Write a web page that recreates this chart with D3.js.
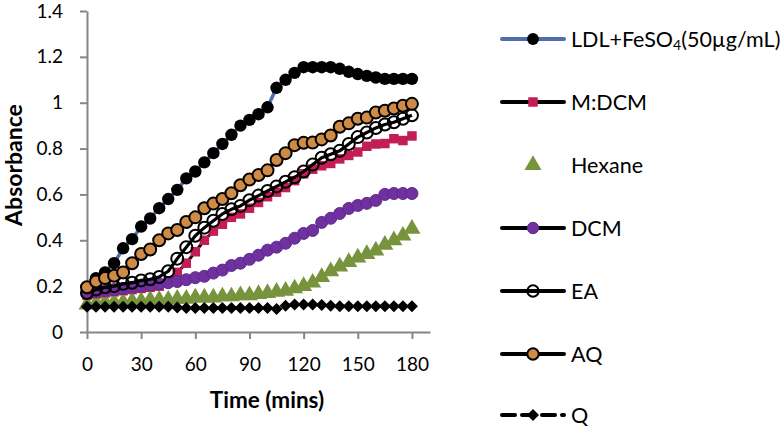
<!DOCTYPE html>
<html><head><meta charset="utf-8">
<script src="https://cdn.jsdelivr.net/npm/d3@7"></script>
<style>body{margin:0;background:#fff}svg{display:block}</style>
</head><body>
<svg id="chart" width="780" height="428"></svg>
<script>
const times = [0,5,10,15,20,25,30,35,40,45,50,55,60,65,70,75,80,85,90,95,100,105,110,115,120,125,130,135,140,145,150,155,160,165,170,175,180];
const ldl = [0.18,0.235,0.26,0.30,0.365,0.405,0.46,0.495,0.54,0.58,0.62,0.67,0.70,0.74,0.78,0.82,0.86,0.90,0.925,0.95,0.98,1.065,1.10,1.13,1.155,1.155,1.155,1.155,1.148,1.135,1.125,1.117,1.11,1.104,1.104,1.104,1.104];
const mdcm = [0.16,0.165,0.17,0.175,0.18,0.185,0.19,0.195,0.20,0.22,0.26,0.30,0.35,0.40,0.44,0.47,0.50,0.515,0.54,0.565,0.59,0.61,0.63,0.66,0.69,0.71,0.725,0.735,0.755,0.77,0.785,0.81,0.82,0.822,0.843,0.835,0.855];
const hexane = [0.12,0.125,0.13,0.13,0.13,0.135,0.135,0.14,0.14,0.14,0.145,0.145,0.15,0.15,0.15,0.155,0.155,0.16,0.16,0.165,0.17,0.175,0.18,0.19,0.20,0.215,0.24,0.265,0.285,0.305,0.325,0.34,0.355,0.38,0.40,0.42,0.45];
const dcm = [0.17,0.175,0.18,0.185,0.19,0.195,0.20,0.205,0.21,0.215,0.22,0.228,0.237,0.243,0.257,0.27,0.29,0.30,0.317,0.335,0.357,0.37,0.387,0.409,0.43,0.443,0.478,0.496,0.517,0.539,0.552,0.561,0.574,0.60,0.604,0.604,0.604];
const ea = [0.17,0.185,0.195,0.20,0.21,0.215,0.225,0.23,0.24,0.265,0.32,0.37,0.42,0.455,0.485,0.515,0.535,0.55,0.575,0.595,0.615,0.635,0.655,0.675,0.70,0.73,0.76,0.775,0.79,0.82,0.85,0.87,0.89,0.905,0.915,0.93,0.945];
const aq = [0.195,0.22,0.235,0.245,0.26,0.30,0.34,0.36,0.40,0.43,0.445,0.48,0.50,0.54,0.56,0.58,0.605,0.64,0.665,0.685,0.705,0.75,0.78,0.815,0.825,0.826,0.84,0.857,0.895,0.91,0.93,0.935,0.957,0.965,0.975,0.987,0.995];
const q = [0.11,0.11,0.11,0.11,0.11,0.11,0.11,0.11,0.11,0.11,0.107,0.105,0.105,0.105,0.105,0.105,0.105,0.105,0.105,0.105,0.105,0.1,0.115,0.12,0.12,0.12,0.118,0.115,0.112,0.112,0.112,0.112,0.112,0.112,0.112,0.112,0.112];
const seriesNames = ["LDL+FeSO4(50µg/mL)","M:DCM","Hexane","DCM","EA","AQ","Q"];
const xTicks = [0,30,60,90,120,150,180];
const yTicks = [0,0.2,0.4,0.6,0.8,1,1.2,1.4];
const xTitle = "Time (mins)";
const yTitle = "Absorbance";

const FONT = "Lato, 'Open Sans', sans-serif";
const svg = d3.select("#chart");
const x = d3.scaleLinear().domain([0,190]).range([87,430]);
const y = d3.scaleLinear().domain([0,1.4]).range([332,11]);

const styles = [
  {values: ldl, line: "#4F6EB0", lw: 3.5, dash: null, marker: "circle", r: 6.2, fill: "#000", stroke: "none", sw: 0},
  {values: mdcm, line: "#000", lw: 3, dash: null, marker: "square", size: 90, fill: "#C31D56", stroke: "none", sw: 0},
  {values: hexane, line: null, lw: 0, dash: null, marker: "triangle", size: 125, fill: "#77933C", stroke: "none", sw: 0},
  {values: dcm, line: "#000", lw: 3, dash: null, marker: "circle", r: 6, fill: "#7030A0", stroke: "#5B2A88", sw: 1},
  {values: ea, line: "#000", lw: 3.2, dash: null, marker: "circle", r: 6, fill: "none", stroke: "#000", sw: 2},
  {values: aq, line: "#000", lw: 3.2, dash: null, marker: "circle", r: 6, fill: "#CF8B45", stroke: "#000", sw: 2},
  {values: q, line: "#000", lw: 3, dash: "12,6", marker: "diamond", size: 72, fill: "#000", stroke: "none", sw: 0}
];

// axes
const yAxis = d3.axisLeft(y).tickValues(yTicks).tickFormat(d3.format("~g")).tickSize(7).tickSizeOuter(0).tickPadding(17);
const xAxis = d3.axisBottom(x).tickValues(xTicks).tickFormat(d3.format("d")).tickSize(7).tickSizeOuter(0).tickPadding(19);
const gy = svg.append("g").attr("transform","translate(87,0)").call(yAxis);
const gx = svg.append("g").attr("transform","translate(0,332)").call(xAxis);
[gx, gy].forEach(g => {
  g.selectAll("path.domain").attr("stroke","#868686").attr("stroke-width",2);
  g.selectAll(".tick line").attr("stroke","#868686").attr("stroke-width",2);
  g.selectAll("text").attr("font-family",FONT).attr("font-size",19).attr("fill","#000");
});
gx.selectAll("text").attr("dy","0.71em");

svg.append("text").attr("x",267).attr("y",408).attr("text-anchor","middle")
  .attr("font-family",FONT).attr("font-weight","bold").attr("font-size",22.5).text(xTitle);
svg.append("text").attr("transform","translate(22,165) rotate(-90)").attr("text-anchor","middle")
  .attr("font-family",FONT).attr("font-weight","bold").attr("font-size",23).text(yTitle);

function drawMarker(sel, s, cx, cy, scale) {
  const k = scale || 1;
  if (s.marker === "circle") {
    sel.append("circle").attr("cx",cx).attr("cy",cy).attr("r",s.r*k)
      .attr("fill",s.fill).attr("stroke",s.stroke).attr("stroke-width",s.sw);
  } else {
    const type = s.marker === "triangle" ? d3.symbolTriangle : d3.symbolSquare;
    const rot = s.marker === "diamond" ? " rotate(45)" : "";
    sel.append("path").attr("d", d3.symbol().type(type).size(s.size*k*k)())
      .attr("transform",`translate(${cx},${cy})${rot}`)
      .attr("fill",s.fill).attr("stroke",s.stroke).attr("stroke-width",s.sw);
  }
}

const plot = svg.append("g");
styles.forEach(s => {
  const g = plot.append("g");
  const pts = times.map((t,i) => [t, s.values[i]]);
  if (s.line) {
    g.append("path").datum(pts)
      .attr("d", d3.line().x(d => x(d[0])).y(d => y(d[1])))
      .attr("fill","none").attr("stroke",s.line).attr("stroke-width",s.lw)
      .attr("stroke-linejoin","round").attr("stroke-dasharray",s.dash);
  }
  pts.forEach(d => drawMarker(g, s, x(d[0]), y(d[1])));
});

// legend
const legY = [39,102,165,228,291,354,415];
styles.forEach((s,i) => {
  const g = svg.append("g");
  const cy = legY[i];
  if (s.line) {
    g.append("line").attr("x1",502).attr("x2",564).attr("y1",cy).attr("y2",cy)
      .attr("stroke",s.line).attr("stroke-width",4).attr("stroke-linecap","round")
      .attr("stroke-dasharray", s.dash ? "13,7" : null);
  }
  drawMarker(g, s, 533, cy, s.marker === "circle" ? 0.95 : 1);
  const t = g.append("text").attr("x",571).attr("y",cy).attr("dy","0.36em")
    .attr("font-family",FONT).attr("font-size",21.5).attr("fill","#000");
  const name = seriesNames[i];
  if (name.indexOf("FeSO4") >= 0) {
    const parts = name.split("FeSO4");
    t.append("tspan").text(parts[0] + "FeSO");
    t.append("tspan").attr("font-size",14).attr("dy","0.25em").text("4");
    t.append("tspan").attr("dy","-0.17em").text(parts[1]);
  } else {
    t.text(name);
  }
});
</script>
</body></html>
